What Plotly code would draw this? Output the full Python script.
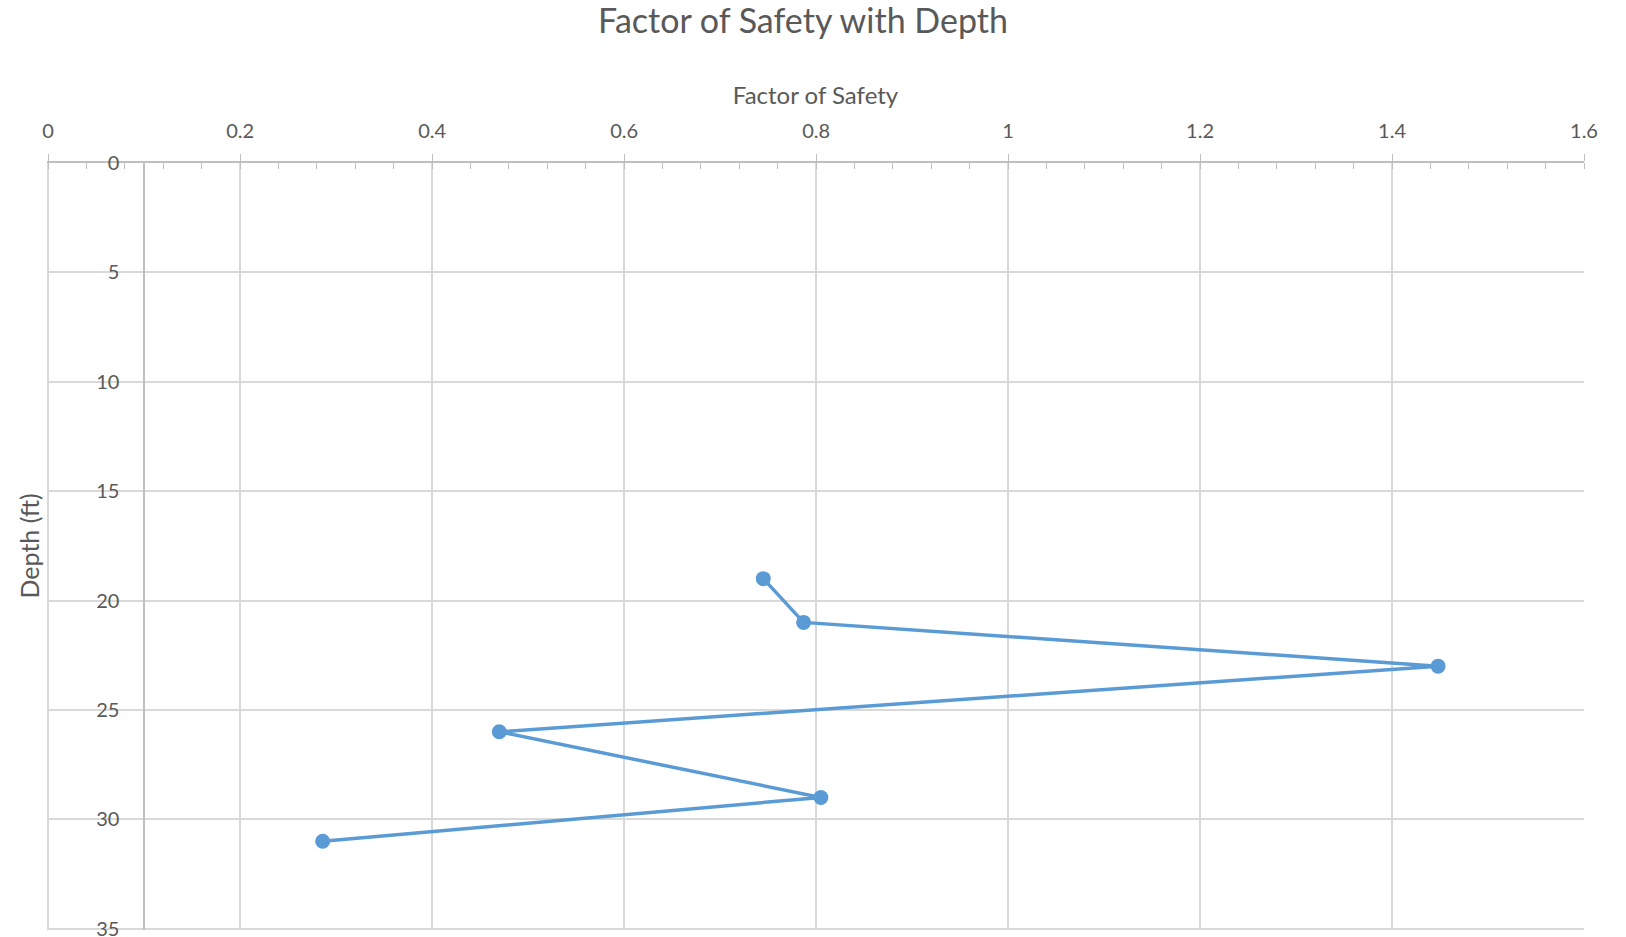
import plotly.graph_objects as go

# Factor of safety against liquefaction at each sampled depth
depth_ft = [19, 21, 23, 26, 29, 31]
factor_of_safety = [0.745, 0.787, 1.448, 0.470, 0.805, 0.286]

x_tick_vals = [0, 0.2, 0.4, 0.6, 0.8, 1.0, 1.2, 1.4, 1.6]
x_tick_text = ["0", "0.2", "0.4", "0.6", "0.8", "1", "1.2", "1.4", "1.6"]
y_tick_vals = [0, 5, 10, 15, 20, 25, 30, 35]

TEXT = "#595959"
GRID = "#d9d9d9"
AXIS = "#bfbfbf"
LINE = "#5b9bd5"
FONT = "Lato, Open Sans, sans-serif"

fig = go.Figure()
fig.add_trace(go.Scatter(
    x=factor_of_safety,
    y=depth_ft,
    mode="lines+markers",
    line=dict(color=LINE, width=3.5),
    marker=dict(color=LINE, size=15),
    showlegend=False,
))

fig.update_layout(
    width=1626,
    height=937,
    margin=dict(l=47, r=42, t=163, b=7),
    paper_bgcolor="white",
    plot_bgcolor="white",
    font=dict(family=FONT, color=TEXT),
    title=dict(
        text="Factor of Safety with Depth",
        xref="container", x=803 / 1626, xanchor="center",
        yref="container", y=1 - 21 / 937, yanchor="middle",
        font=dict(size=34, color=TEXT, family=FONT),
    ),
    xaxis=dict(
        side="top",
        # tiny pad on the left so the 0 gridline stays visible
        range=[-0.0012, 1.6],
        tickvals=x_tick_vals,
        ticktext=x_tick_text,
        tickfont=dict(size=20, color=TEXT),
        ticks="outside",
        ticklen=7,
        tickcolor=AXIS,
        ticklabelstandoff=8,
        showline=True,
        linecolor=AXIS,
        linewidth=1.5,
        showgrid=True,
        gridcolor=GRID,
        gridwidth=1.5,
        zeroline=False,
        minor=dict(dtick=0.04, ticks="inside", ticklen=6,
                   tickcolor=AXIS, showgrid=False),
        title=dict(text="Factor of Safety", font=dict(size=24, color=TEXT),
                   standoff=7),
    ),
    yaxis=dict(
        # tiny pad at the bottom so the 35 gridline stays visible
        range=[35.06, 0],
        tickvals=y_tick_vals,
        tickfont=dict(size=20, color=TEXT),
        anchor="free",
        position=0.0632,
        side="left",
        ticks="",
        ticklabelstandoff=20,
        ticklabeloverflow="allow",
        showline=True,
        linecolor=AXIS,
        linewidth=1.5,
        showgrid=True,
        gridcolor=GRID,
        gridwidth=1.5,
        zeroline=False,
        automargin=False,
    ),
    annotations=[dict(
        text="Depth (ft)",
        textangle=-90,
        xref="paper", yref="paper",
        x=-(47 - 28) / 1537, y=0.5,
        xanchor="center", yanchor="middle",
        showarrow=False,
        font=dict(size=25, color=TEXT, family=FONT),
    )],
)

fig.write_html("out.html")
